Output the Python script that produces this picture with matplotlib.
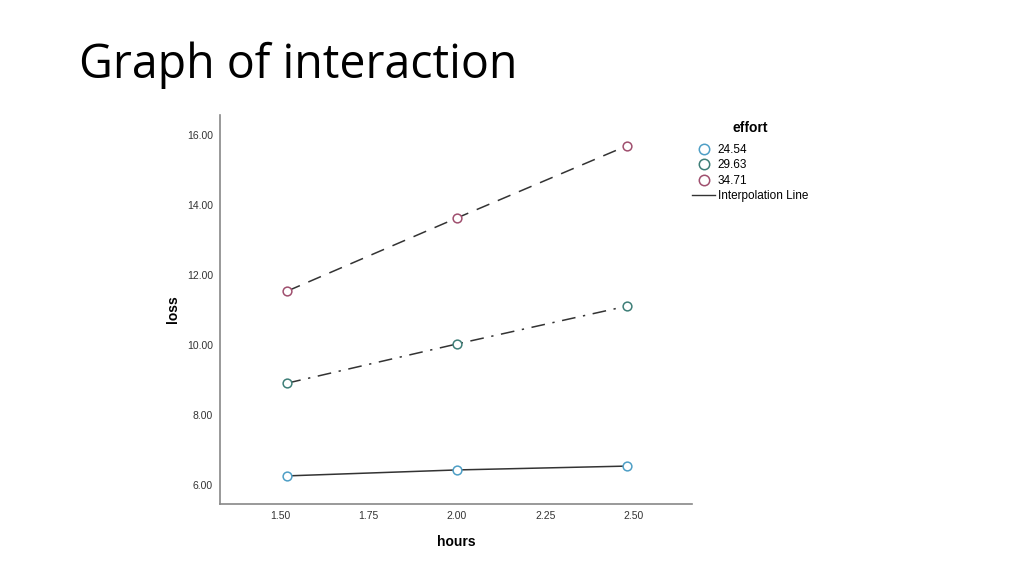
import matplotlib
matplotlib.use("Agg")
import matplotlib.pyplot as plt
from matplotlib.lines import Line2D

hours = [1.52, 2.00, 2.48]
effort_labels = ["24.54", "29.63", "34.71"]
loss_24 = [6.26, 6.43, 6.54]
loss_29 = [8.91, 10.03, 11.11]
loss_34 = [11.54, 13.63, 15.69]
xticks = [1.50, 1.75, 2.00, 2.25, 2.50]
yticks = [6.00, 8.00, 10.00, 12.00, 14.00, 16.00]

series = [loss_24, loss_29, loss_34]
marker_colors = ["#4f9fc6", "#3f7f78", "#a0506f"]
linestyles = ["-", (0, (9, 5, 1.5, 5)), (0, (9, 6))]

fig = plt.figure(figsize=(10.24, 5.75), dpi=100)
fig.text(79/1024, 1 - 78/575, "Graph of interaction", fontsize=33.5,
         family="Open Sans", color="#000000", ha="left", va="baseline")

ax = fig.add_axes([220/1024, 1 - 504/575, 472/1024, 389/575])
for vals, mc, ls in zip(series, marker_colors, linestyles):
    ax.plot(hours, vals, color="#333333", lw=1.1, linestyle=ls, zorder=2)
    ax.plot(hours, vals, linestyle="none", marker="o", markersize=6.3,
            markerfacecolor="white", markeredgecolor=mc, markeredgewidth=1.1, zorder=3)

ax.set_xlim(1.33, 2.664)
ax.set_ylim(5.457, 16.57)
ax.set_xticks(xticks)
ax.set_xticklabels([f"{v:.2f}" for v in xticks])
ax.set_yticks(yticks)
ax.set_yticklabels([f"{v:.2f}" for v in yticks])
ax.tick_params(axis="y", length=0, labelsize=7.5, colors="#333333", pad=5)
ax.tick_params(axis="x", length=0, labelsize=7.5, colors="#333333", pad=5)
for lbl in ax.get_xticklabels() + ax.get_yticklabels():
    lbl.set_family("Liberation Sans")
for s in ["top", "right"]:
    ax.spines[s].set_visible(False)
for s in ["left", "bottom"]:
    ax.spines[s].set_color("#888888")
    ax.spines[s].set_linewidth(1.2)
ax.set_xlabel("hours", fontsize=10, fontweight="bold", family="Liberation Sans")
ax.set_ylabel("loss", fontsize=10, fontweight="bold", family="Liberation Sans")
ax.yaxis.set_label_coords(-40/472, 0.5)
ax.xaxis.set_label_coords(0.5, -31/389)

handles = [Line2D([], [], linestyle="none", marker="o", markersize=7.5,
                  markerfacecolor="white", markeredgecolor=c, markeredgewidth=1.1)
           for c in marker_colors]
handles.append(Line2D([], [], color="#333333", lw=1))
labels = effort_labels + ["Interpolation Line"]
leg = fig.legend(handles, labels, loc="upper left", bbox_to_anchor=(690/1024, 1 - 119/575),
                 frameon=False, title="effort", handlelength=1.9, handletextpad=0.25,
                 labelspacing=0.3, prop={"family": "Liberation Sans", "size": 8.5},
                 borderaxespad=0, borderpad=0.2)
leg.get_title().set_fontweight("bold")
leg.get_title().set_fontsize(10)
leg.get_title().set_family("Liberation Sans")
leg._legend_box.sep = 6

fig.savefig("out.png", dpi=100, facecolor="white")
